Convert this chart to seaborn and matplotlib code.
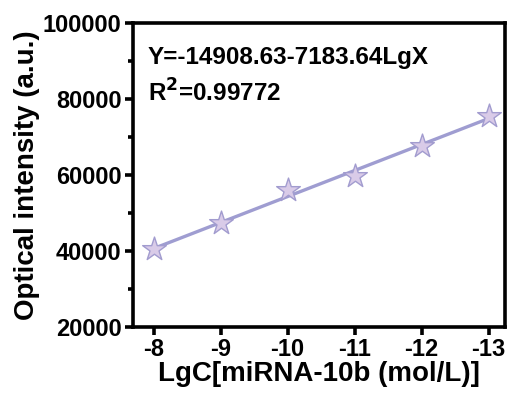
import matplotlib
matplotlib.use("Agg")
import matplotlib.pyplot as plt
import seaborn as sns
import pandas as pd
from matplotlib.ticker import MultipleLocator

# Data
lg_conc = [-8, -9, -10, -11, -12, -13]
intensity = [40500, 47300, 56000, 59600, 67600, 75500]
x_ticks = [-8, -9, -10, -11, -12, -13]
y_ticks = [20000, 40000, 60000, 80000, 100000]

df = pd.DataFrame({"x": lg_conc, "y": intensity})

sns.set_style("ticks")
plt.rcParams["font.family"] = ["Liberation Sans", "DejaVu Sans"]
plt.rcParams["font.weight"] = "bold"
plt.rcParams["text.color"] = "black"
plt.rcParams["axes.labelcolor"] = "black"
plt.rcParams["xtick.color"] = "black"
plt.rcParams["ytick.color"] = "black"

line_color = "#9f9dd1"
star_face = "#d9cbe8"
star_edge = "#a29ccf"

fig = plt.figure(figsize=(5.07, 3.94), dpi=100)
ax = fig.add_axes([0.262, 0.17, 0.735, 0.772])

# Fitted line
sns.regplot(data=df, x="x", y="y", ax=ax, ci=None, scatter=False,
            line_kws={"color": line_color, "linewidth": 2.4}, truncate=True)
# Star markers
sns.scatterplot(data=df, x="x", y="y", ax=ax, marker="*", s=320,
                color=star_face, edgecolor=star_edge, linewidth=1.0, zorder=3)

ax.set_xlim(-7.69, -13.25)
ax.set_ylim(20000, 100000)
ax.set_xticks(x_ticks)
ax.set_xticklabels([str(v) for v in x_ticks])
ax.set_yticks(y_ticks)
ax.yaxis.set_minor_locator(MultipleLocator(10000))

for s in ax.spines.values():
    s.set_linewidth(2.6)
    s.set_color("black")
ax.tick_params(axis="both", which="major", direction="out", length=6, width=2.6,
               labelsize=17, pad=2)
ax.tick_params(axis="y", which="minor", direction="out", length=3.5, width=2.6)
for lab in ax.get_xticklabels() + ax.get_yticklabels():
    lab.set_fontweight("bold")

ax.set_xlabel("LgC[miRNA-10b (mol/L)]", fontsize=20, fontweight="bold", labelpad=0)
ax.set_ylabel("Optical intensity (a.u.)", fontsize=20, fontweight="bold", labelpad=2)

ax.text(0.04, 0.885, "Y=-14908.63-7183.64LgX", transform=ax.transAxes,
        fontsize=17.5, fontweight="bold", va="center", ha="left")
ax.text(0.04, 0.77, "R$^\\mathbf{2}$=0.99772", transform=ax.transAxes,
        fontsize=17.5, fontweight="bold", va="center", ha="left")

fig.savefig("out.png", dpi=100)
